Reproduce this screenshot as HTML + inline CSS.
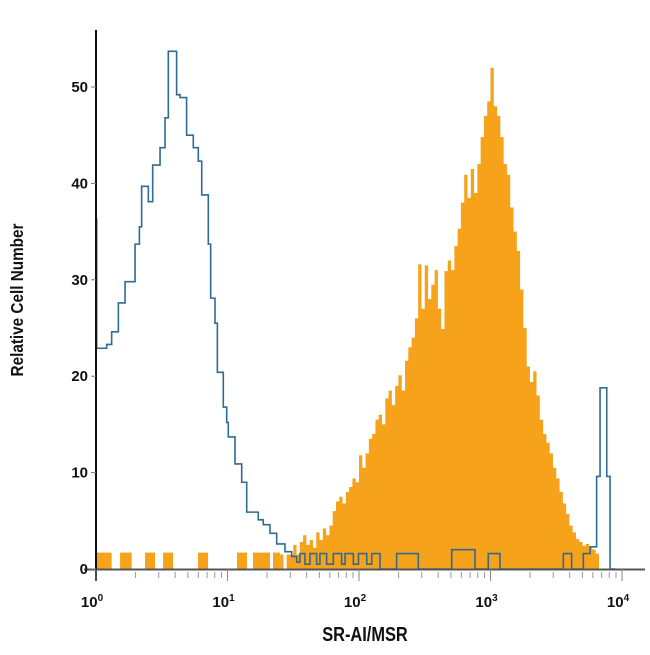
<!DOCTYPE html>
<html><head><meta charset="utf-8"><style>
html,body{margin:0;padding:0;background:#fff;}
svg text{font-family:"Liberation Sans",sans-serif;font-weight:bold;fill:#111;}
</style></head><body>
<svg id="chart" width="650" height="650" viewBox="0 0 650 650" xmlns="http://www.w3.org/2000/svg">
<g id="plot"></g>
<g id="axes"></g>
<text x="365" y="641" text-anchor="middle" font-size="20" transform="translate(365,0) scale(0.82,1) translate(-365,0)">SR-AI/MSR</text>
<text x="0" y="0" text-anchor="middle" font-size="18" transform="translate(23,300) rotate(-90) scale(0.85,1)">Relative Cell Number</text>
</svg>
<script>
// ---- data ----
const yTicks = [0,10,20,30,40,50];
const xDecades = [0,1,2,3,4];
// orange (stained) histogram: bin start in log10 units, bin width 0.025
const orangeStart = 1.40;
const orangeWidth = 0.025;
const orangeVals = [1.5,0,1.5,1.5,2.5,1.5,2.8,3.5,2.5,3,2.2,3.8,3,4.2,3.5,4.5,6,7,7.5,6.8,8,8.5,9.4,9,11.8,10.5,12,13.5,14,15.5,16,15,17.7,18.5,17,19,20.1,18.5,21.6,23,24,26,31.6,27,31.5,28,29.5,31,27,24.9,30.9,32,31,33.5,35.3,38,40.9,38.5,41.5,39,42,44.8,47,48.5,52,48,47,44.8,42,40.9,37.5,35,33,29,25,21,19.4,20.5,18,15.5,14,13.1,12,10.5,9.4,8,6.8,5.7,4.5,3.8,3.1,2.8,2.4,2.6,2.2,2.0,1.6];
// low orange events left of main peak (log10 start, log10 end)
const orangeLowStarts = [0.005,0.183,0.373,0.51,0.776,1.072,1.194,1.346];
const orangeLowEnds   = [0.119,0.271,0.449,0.586,0.852,1.148,1.323,1.399];
const orangeLowVal = 1.7;
// blue (isotype control) histogram: bin edges (log10) and values
const blueEdges = [0,0.005,0.081,0.119,0.170,0.221,0.297,0.330,0.347,0.398,0.431,0.487,0.525,0.550,0.613,0.639,0.689,0.740,0.778,0.804,0.854,0.872,0.905,0.923,0.968,0.994,1.006,1.057,1.108,1.146,1.234,1.272,1.323,1.374,1.437,1.488,1.526,1.551,1.589,1.627,1.678,1.703,1.754,1.805,1.868,1.894,1.957,1.996,2.059,2.097,2.160,2.286,2.451,2.705,2.882,2.983,3.072,3.554,3.617,3.706,3.757,3.807,3.833,3.884,3.909,3.95];
const blueVals = [36.3,22.9,23.3,24.6,27.6,29.8,33.7,35.5,39.7,38.1,41.9,43.7,46.8,53.7,49.2,48.9,45,43.7,42.3,38.8,33.7,28.1,25.5,20.4,16.8,15.2,13.7,10.9,9,5.9,5.1,4.6,3.7,2.6,1.8,1.3,0.7,1.6,0.5,1.6,0.5,1.6,0.5,1.6,0.5,1.6,0.5,1.6,0.5,1.6,0,1.6,0,2.0,0,1.6,0,1.6,0,1.6,2.3,9.6,18.8,9.6,0];

// ---- scales ----
const X0=96, DEC=131.5, Y0=569, PER=9.64;
const xs = l => X0 + l*DEC;
const ys = v => Y0 - v*PER;
const NS="http://www.w3.org/2000/svg";
const plot=document.getElementById('plot');
const axes=document.getElementById('axes');
function mk(tag, parent){const e=document.createElementNS(NS,tag);parent.appendChild(e);return e;}

// orange low bars
orangeLowStarts.forEach((s,i)=>{
  const r=mk('rect',plot);
  
  
  r.setAttribute('x',xs(s));r.setAttribute('width',xs(orangeLowEnds[i])-xs(s));
  r.setAttribute('y',ys(orangeLowVal));r.setAttribute('height',Y0-ys(orangeLowVal));
  r.setAttribute('fill','#f7a21b');
});
// orange main histogram as filled path
let d='M'+xs(orangeStart)+','+Y0;
orangeVals.forEach((v,i)=>{
  const a=xs(orangeStart+i*orangeWidth), b=xs(orangeStart+(i+1)*orangeWidth);
  d+=' L'+a+','+ys(v)+' L'+b+','+ys(v);
});
d+=' L'+xs(orangeStart+orangeVals.length*orangeWidth)+','+Y0+' Z';
const op=mk('path',plot);


op.setAttribute('d',d);op.setAttribute('fill','#f7a21b');

// blue step line
let bd='M'+xs(blueEdges[0])+','+Y0;
blueVals.forEach((v,i)=>{bd+=' L'+xs(blueEdges[i])+','+ys(v)+' L'+xs(blueEdges[i+1])+','+ys(v);});
bd+=' L'+xs(blueEdges[blueEdges.length-1])+','+Y0;
const bp=mk('path',plot);


bp.setAttribute('d',bd);bp.setAttribute('fill','none');bp.setAttribute('stroke','#2f6b93');bp.setAttribute('stroke-width','1.6');

// axes lines
const xl=mk('line',axes);


xl.setAttribute('x1',84);xl.setAttribute('x2',645);xl.setAttribute('y1',Y0+0.5);xl.setAttribute('y2',Y0+0.5);xl.setAttribute('stroke','#555');xl.setAttribute('stroke-width','2');
const yl=mk('line',axes);


yl.setAttribute('x1',X0);yl.setAttribute('x2',X0);yl.setAttribute('y1',30);yl.setAttribute('y2',Y0+12);yl.setAttribute('stroke','#111');yl.setAttribute('stroke-width','2');

// y ticks
yTicks.forEach(t=>{
  const tk=mk('line',axes);
  
  
  tk.setAttribute('x1',X0-5);tk.setAttribute('x2',X0);tk.setAttribute('y1',ys(t));tk.setAttribute('y2',ys(t));tk.setAttribute('stroke','#777');
  const tx=mk('text',axes);
  
  
  tx.setAttribute('x',X0-8);tx.setAttribute('y',ys(t)+5);tx.setAttribute('text-anchor','end');tx.setAttribute('font-size','15');
  tx.textContent=t;
});
// x ticks
xDecades.forEach(k=>{
  const tx=mk('text',axes);
  
  
  tx.setAttribute('x',xs(k)-4);tx.setAttribute('y',607);tx.setAttribute('text-anchor','middle');tx.setAttribute('font-size','15');
  tx.textContent='10';
  const sp=mk('tspan',tx);
  sp.setAttribute('font-size','10');sp.setAttribute('dy','-6');sp.textContent=k;
  if(k<4){for(let m=2;m<=9;m++){
    const tk=mk('line',axes);
    
    
    const x=xs(k+Math.log10(m));
    tk.setAttribute('x1',x);tk.setAttribute('x2',x);tk.setAttribute('y1',Y0+3);tk.setAttribute('y2',Y0+9);tk.setAttribute('stroke','#999');
  }}
  const mt=mk('line',axes);
  
  
  mt.setAttribute('x1',xs(k));mt.setAttribute('x2',xs(k));mt.setAttribute('y1',Y0);mt.setAttribute('y2',Y0+12);mt.setAttribute('stroke','#888');
});
</script>
</body></html>
